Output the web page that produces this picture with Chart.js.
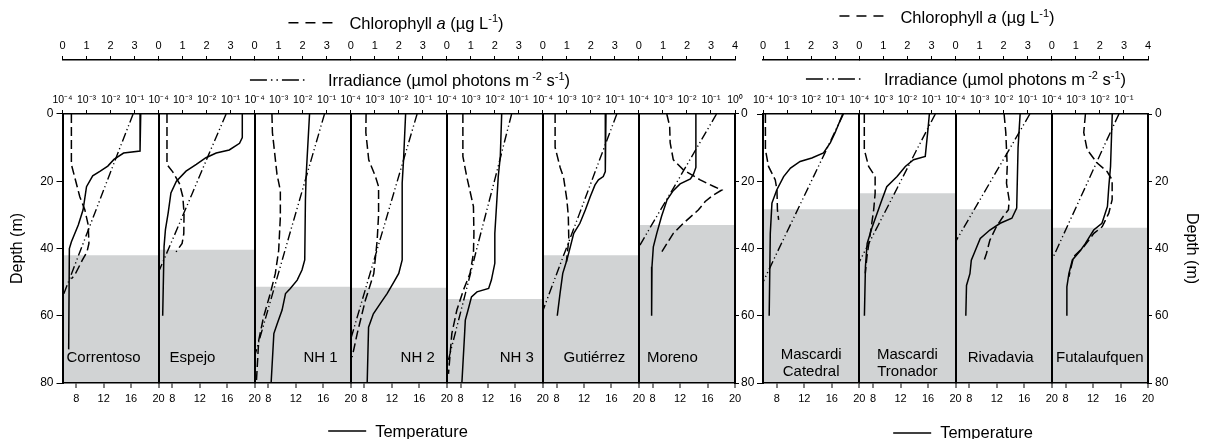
<!DOCTYPE html>
<html>
<head>
<meta charset="utf-8">
<title>Lake profiles</title>
<script src="https://cdn.jsdelivr.net/npm/chart.js@4.4.1/dist/chart.umd.min.js"></script>
<style>
  html, body { margin: 0; padding: 0; background: #fff; }
  #wrap { position: relative; width: 1207px; height: 439px; overflow: hidden; }
  #wrap canvas { position: absolute; top: 0; }
  #leftChart { left: 0; }
  #rightChart { left: 740px; }
</style>
</head>
<body>
<div id="wrap">
  <canvas id="leftChart" width="760" height="439"></canvas>
  <canvas id="rightChart" width="467" height="439"></canvas>
</div>
<script>
Chart.defaults.font.family = '"Liberation Sans", Arial, Helvetica, sans-serif';
Chart.defaults.color = '#000';

// lakes, the first 7 go in the left block
const lakes = ['Correntoso', 'Espejo', 'NH 1', 'NH 2', 'NH 3', 'Gutiérrez', 'Moreno',
  'Mascardi\nCatedral', 'Mascardi\nTronador', 'Rivadavia', 'Futalaufquen'];
const leftCount = 7;

// depth (m) where the grey band starts
const shadeDepth = [42, 40.4, 51.4, 51.7, 55, 42, 33, 28.3, 23.6, 28.3, 33.8];

const depthTicks = [0, 20, 40, 60, 80];
const tempTicks = [8, 12, 16, 20];
const chlTicks = [0, 1, 2, 3];
const chlTicksEnd = [0, 1, 2, 3, 4];
const irrTicks = [1e-4, 1e-3, 1e-2, 1e-1];
const irrTicksEnd = [1e-4, 1e-3, 1e-2, 1e-1, 1];
const irrTickLabels = ['10⁻⁴', '10⁻³', '10⁻²', '10⁻¹', '10⁰'];

// [depth m, °C]
const temperature = [
  [[0,17.4],[11,17.3],[11.6,14.9],[13.5,13.5],[15.5,12.6],[17,11.5],[18.4,10.4],[21.6,9.5],[28.5,9.0],[33,8.3],[38,7.3],[40,7.0],[70,6.9]],
  [[0,18.2],[7,18.2],[8.7,17.8],[10.7,16.3],[11.6,14.4],[13,12.9],[15,11.5],[17,10.0],[20,8.6],[23.5,7.8],[29.4,7.4],[34.4,7.0],[39.4,6.8],[60,6.6]],
  [[0,14.0],[18.6,13.5],[25.5,13.4],[43.4,13.3],[46.4,12.9],[49.4,12.2],[51.9,11.2],[53.4,10.5],[58.3,10.0],[62.3,9.3],[65.3,8.8],[80,8.4]],
  [[0,14.0],[13.6,13.7],[20.5,13.5],[43.4,13.5],[47.4,13.0],[49.9,12.3],[53.4,11.3],[56.4,10.3],[59.4,9.3],[63.4,8.6],[80,8.4]],
  [[0,14.0],[12.6,13.8],[18.6,13.5],[25.5,13.3],[35.5,13.0],[44.4,13.0],[49.4,12.5],[51.9,12.1],[52.9,10.4],[54.4,9.6],[58.3,9.1],[61.3,8.7],[65.3,8.6],[80,8.2]],
  [[0,15.2],[17.1,15.1],[18.6,14.8],[19.6,14.1],[21.1,13.6],[24.6,12.9],[28.5,12.2],[32.5,11.4],[35.5,10.5],[39.5,10.0],[43.4,9.5],[47.4,8.9],[53.4,8.5],[60,8.1]],
  [[0,14.3],[15.9,14.3],[17.9,13.95],[19.3,13.5],[20.8,12.0],[22.8,11.0],[25.5,10.1],[30.4,9.3],[35.5,8.6],[39.5,8.1],[45.4,7.9],[60,7.85]],
  [[0,17.6],[5.5,16.5],[8.5,15.8],[11.6,14.8],[13.1,13.1],[14.1,11.4],[16.1,10.0],[18.6,9.0],[22.6,8.0],[26.5,7.3],[35.5,7.06],[60,6.9]],
  [[0,16.2],[4.5,16.0],[12.6,15.6],[13.6,13.9],[15.6,12.7],[18.6,11.5],[21.6,10.0],[25.5,9.3],[29.5,8.6],[33.5,7.9],[38.5,7.15],[45.4,6.9],[60,6.75]],
  [[0,15.4],[10,15.1],[28,14.9],[31,14.2],[32.5,12.5],[34.5,11.0],[37,9.6],[40,9.0],[43.5,8.3],[47.5,8.1],[51,7.6],[60,7.5]],
  [[0,14.8],[15.6,14.55],[21.6,14.3],[27.5,14.1],[32.5,13.3],[34.5,12.1],[38.5,10.9],[40.5,10.2],[43.4,9.0],[47.4,8.5],[51.4,8.2],[60,8.2]]
];

// [depth m, chlorophyll a µg L-1]
const chlorophyll = [
  [[0,0.37],[15,0.37],[24.6,0.72],[28.5,0.93],[33,1.07],[38.5,1.1],[41,1.02],[43.4,0.83],[47.9,0.51],[49,0.37]],
  [[0,0.35],[15,0.35],[17.2,0.59],[20.7,0.87],[24.6,1.01],[29.6,1.06],[35.6,1.05],[38.5,0.98],[41,0.73]],
  [[0,0.72],[5.5,0.74],[17.9,0.93],[22.8,1.07],[30.7,1.07],[40.6,1.0],[47.5,0.86],[53.4,0.65],[60.4,0.37],[67.3,0.17],[80,0.07]],
  [[0,0.64],[5.5,0.63],[13.6,0.75],[18.6,1.03],[21.6,1.16],[30,1.16],[37.7,1.1],[47.5,0.96],[55.4,0.61],[65.3,0.27],[72.3,0.06]],
  [[0,0.67],[12.6,0.67],[18.6,0.83],[27.5,1.11],[35.5,1.13],[41.4,1.11],[47.4,0.97],[52.4,0.69],[58.3,0.42],[65.3,0.21],[77.3,0.07]],
  [[0,0.51],[9.9,0.51],[15.9,0.72],[18.8,0.86],[25.5,1.0],[30.4,1.06],[37.4,1.08],[44,0.98]],
  [[0,1.16],[3.6,1.28],[8.5,1.3],[13.6,1.43],[16.6,1.85],[19.6,2.55],[21.5,3.1],[22.6,3.45],[24.1,3.1],[26,2.76],[28.5,2.48],[32.5,1.85],[35.5,1.43],[41,0.95]],
  [[0,0.1],[10.6,0.1],[15.6,0.23],[19.6,0.51],[22.6,0.58],[28.5,0.6],[31.5,0.65]],
  [[0,0.21],[10.6,0.21],[15.6,0.39],[18.6,0.66],[23.6,0.66],[28.5,0.6],[35.5,0.46],[42.4,0.32],[47.4,0.25]],
  [[0,2.02],[5.5,2.09],[15.6,2.15],[20.6,2.12],[25.5,2.23],[28.5,2.2],[30.5,1.98],[33.5,1.7],[37.5,1.43],[41.4,1.29],[44.4,1.15]],
  [[0,1.40],[5.5,1.33],[10.6,1.47],[14.6,1.89],[17.1,2.3],[19.6,2.51],[25.5,2.51],[29.5,2.37],[33.5,2.1],[35.5,1.75],[39.5,1.33],[42.4,0.91],[48.4,0.71]]
];

// [depth m, irradiance µmol photons m-2 s-1]
const irradiance = [
  [[0,0.087],[13,0.017],[27,0.003],[40,0.0006],[54.5,0.0001]],
  [[0,0.065],[12,0.0123],[24,0.0024],[36,0.00046],[47,0.0001]],
  [[0,0.081],[18,0.015],[36,0.0028],[54,0.00053],[72,0.0001]],
  [[0,0.058],[17,0.0115],[34,0.0023],[50,0.0005],[67,0.0001]],
  [[0,0.05],[19,0.0104],[38,0.0021],[56,0.00048],[75,0.0001]],
  [[0,0.12],[15,0.0195],[30,0.0032],[45,0.00051],[58.5,0.0001]],
  [[0,0.17],[10,0.026],[20,0.004],[30,0.0006],[39.5,0.0001]],
  [[0,0.22],[12,0.035],[25,0.0047],[38,0.00063],[50,0.0001]],
  [[0,0.145],[11,0.023],[22,0.0038],[33,0.00062],[44,0.0001]],
  [[0,0.123],[10,0.019],[19,0.0035],[28,0.00065],[38,0.0001]],
  [[0,0.062],[11,0.012],[22,0.0024],[33,0.00047],[43.5,0.0001]]
];

// where each lake name sits in its panel
const nameAlign = ['left', 'left', 'right', 'right', 'right', 'center', 'left', 'center', 'center', 'center', 'center'];
const nameDx = [4, 11, 13, 12, 9, 3.5, 8, 0, 0, -3, 0];

const FONT = '"Liberation Sans", Arial, Helvetica, sans-serif';
const chlDash = [9, 4];
const irrDash = [9, 3, 1.2, 3, 1.2, 3];

const legendRuns = {
  chl: [{t: 'Chlorophyll '}, {t: 'a', it: true}, {t: ' (µg L'}, {t: '-1', sup: true}, {t: ')'}],
  irr: [{t: 'Irradiance (µmol photons m'}, {t: ' -2', sup: true}, {t: ' s'}, {t: '-1', sup: true}, {t: ')'}],
  tmp: [{t: 'Temperature'}]
};

const groups = [
  {canvas: 'leftChart', offset: 0, first: 0, count: leftCount, leftWidth: 62.5, rightWidth: 25,
   leftLabels: true, leftTitle: true, rightTitle: false, rightPad: 2, irrEnd: true,
   legend: {chl: {cx: 396, ly: 22.7, base: 28.6}, irr: {cx: 410, ly: 80, base: 86}, tmp: {cx: 398, ly: 431, base: 436.5}}},
  {canvas: 'rightChart', offset: 740, first: leftCount, count: lakes.length - leftCount, leftWidth: 23, rightWidth: 59,
   leftLabels: false, leftTitle: false, rightTitle: true, rightPad: 3, irrEnd: false,
   legend: {chl: {cx: 947, ly: 16, base: 23.3}, irr: {cx: 966, ly: 79, base: 85}, tmp: {cx: 963, ly: 433, base: 438}}}
];

function runFont(r) {
  return (r.it ? 'italic ' : '') + (r.sup ? '11px ' : '16.5px ') + FONT;
}

function drawLegendItem(ctx, item, runs, dash, sample, gap, offset) {
  let textW = 0;
  runs.forEach(r => { ctx.font = runFont(r); textW += ctx.measureText(r.t).width; });
  let x = item.cx - offset - (sample + gap + textW) / 2;
  ctx.strokeStyle = '#000';
  ctx.lineWidth = 1.4;
  ctx.setLineDash(dash);
  ctx.beginPath();
  ctx.moveTo(x, item.ly);
  ctx.lineTo(x + sample, item.ly);
  ctx.stroke();
  ctx.setLineDash([]);
  x += sample + gap;
  runs.forEach(r => {
    ctx.font = runFont(r);
    ctx.fillText(r.t, x, item.base + (r.sup ? -6.5 : 0));
    x += ctx.measureText(r.t).width;
  });
}

function overlay(g) {
  return {
    id: 'overlay',
    afterDatasetsDraw(chart) {
      const ctx = chart.ctx;
      ctx.save();
      ctx.fillStyle = '#000';
      ctx.font = '15px ' + FONT;
      ctx.textBaseline = 'alphabetic';
      for (let k = 0; k < g.count; k++) {
        const i = g.first + k;
        const s = chart.scales['tmp' + k];
        const lines = lakes[i].split('\n');
        const a = nameAlign[i];
        const x = a === 'left' ? s.left + nameDx[i] : a === 'right' ? s.right - nameDx[i] : (s.left + s.right) / 2 + nameDx[i];
        ctx.textAlign = a;
        const y0 = lines.length > 1 ? 359 : 362;
        lines.forEach((t, j) => ctx.fillText(t, x, y0 + j * 17));
      }
      ctx.restore();
    },
    afterDraw(chart) {
      const ctx = chart.ctx;
      ctx.save();
      ctx.fillStyle = '#000';
      ctx.textAlign = 'left';
      ctx.textBaseline = 'alphabetic';
      drawLegendItem(ctx, g.legend.chl, legendRuns.chl, [10, 7], 44, 17, g.offset);
      drawLegendItem(ctx, g.legend.irr, legendRuns.irr, [17, 4, 1.5, 4, 1.5, 4], 58, 20, g.offset);
      drawLegendItem(ctx, g.legend.tmp, legendRuns.tmp, [], 38, 9, g.offset);
      ctx.restore();
    }
  };
}

function buildGroup(g) {
  const scales = {};
  const datasets = [];
  const pts = arr => arr.map(([d, v]) => ({x: v, y: d}));

  for (let k = 0; k < g.count; k++) {
    const i = g.first + k;
    const last = k === g.count - 1;
    const chlT = last ? chlTicksEnd : chlTicks;
    const irrT = last && g.irrEnd ? irrTicksEnd : irrTicks;

    scales['tmp' + k] = {
      axis: 'x', type: 'linear', position: 'bottom', stack: 'tmp', stackWeight: 1, weight: k,
      min: 6, max: 20,
      afterBuildTicks: s => { s.ticks = tempTicks.map(v => ({value: v})); },
      afterFit: s => { s.height = 56; },
      ticks: {autoSkip: false, maxRotation: 0, minRotation: 0, padding: 4, font: {size: 11}},
      grid: {z: 1, drawOnChartArea: true, lineWidth: 2, tickWidth: 1, tickLength: 5, tickColor: '#000',
             color: c => (c.tick && c.tick.value === 20) ? '#000' : 'rgba(0,0,0,0)'},
      border: {z: 1, color: '#000', width: 1.5}
    };
    scales['chl' + k] = {
      axis: 'x', type: 'linear', position: 'top', stack: 'chl', stackWeight: 1, weight: 100 - k,
      min: 0, max: 4,
      afterBuildTicks: s => { s.ticks = chlT.map(v => ({value: v})); },
      afterFit: s => { s.height = 60; },
      ticks: {autoSkip: false, maxRotation: 0, minRotation: 0, padding: 3, font: {size: 11}},
      grid: {drawOnChartArea: false, tickLength: 4, tickWidth: 1, tickColor: '#000'},
      border: {color: '#000', width: 1.5}
    };
    scales['irr' + k] = {
      axis: 'x', type: 'logarithmic', position: 'top', stack: 'irr', stackWeight: 1, weight: 50 - k,
      min: 1e-4, max: 1,
      afterBuildTicks: s => { s.ticks = irrT.map(v => ({value: v})); },
      afterFit: s => { s.height = 54; },
      ticks: {autoSkip: false, maxRotation: 0, minRotation: 0, padding: 4, font: {size: 10.5},
              callback: v => irrTickLabels[Math.round(Math.log10(v)) + 4]},
      grid: {drawOnChartArea: false, tickLength: 4, tickWidth: 1, tickColor: '#000'},
      border: {z: 1, color: '#000', width: 1.5}
    };

    datasets.push({
      label: lakes[i] + ' temperature', data: pts(temperature[i]),
      xAxisID: 'tmp' + k, yAxisID: 'yL', showLine: true, pointRadius: 0,
      borderColor: '#000', borderWidth: 1.5, order: 1
    });
    datasets.push({
      label: lakes[i] + ' chlorophyll', data: pts(chlorophyll[i]),
      xAxisID: 'chl' + k, yAxisID: 'yL', showLine: true, pointRadius: 0,
      borderColor: '#000', borderWidth: 1.5, borderDash: chlDash, order: 1
    });
    datasets.push({
      label: lakes[i] + ' irradiance', data: pts(irradiance[i]),
      xAxisID: 'irr' + k, yAxisID: 'yL', showLine: true, pointRadius: 0,
      borderColor: '#000', borderWidth: 1.4, borderDash: irrDash, order: 1
    });
    datasets.push({
      label: lakes[i] + ' band', data: [{x: 0, y: shadeDepth[i]}, {x: 4, y: shadeDepth[i]}],
      xAxisID: 'chl' + k, yAxisID: 'yL', showLine: true, pointRadius: 0,
      borderWidth: 0, borderColor: 'rgba(0,0,0,0)', backgroundColor: '#d1d3d4',
      fill: {value: 80}, order: 5
    });
  }

  scales.yL = {
    axis: 'y', type: 'linear', position: 'left', reverse: true, min: 0, max: 80, weight: 0,
    afterBuildTicks: s => { s.ticks = depthTicks.map(v => ({value: v})); },
    afterFit: s => { s.width = g.leftWidth; },
    ticks: {font: {size: 12}, padding: 3, callback: v => g.leftLabels ? String(v) : ''},
    grid: {drawOnChartArea: false, tickLength: 6, tickWidth: 1, tickColor: '#000'},
    border: {z: 1, color: '#000', width: 2},
    title: {display: g.leftTitle, text: 'Depth (m)', font: {size: 16}, padding: {top: 8, bottom: 0}}
  };
  scales.yR = {
    axis: 'y', type: 'linear', position: 'right', reverse: true, min: 0, max: 80, weight: 0,
    afterBuildTicks: s => { s.ticks = depthTicks.map(v => ({value: v})); },
    afterFit: s => { s.width = g.rightWidth; },
    ticks: {font: {size: 12}, padding: g.rightPad},
    grid: {drawOnChartArea: false, tickLength: 4, tickWidth: 1, tickColor: '#000'},
    border: {z: 1, color: '#000', width: 2},
    title: {display: g.rightTitle, text: 'Depth (m)', font: {size: 16}, padding: {top: 6, bottom: 0}}
  };

  return new Chart(document.getElementById(g.canvas), {
    type: 'scatter',
    data: {datasets: datasets},
    options: {
      responsive: false,
      animation: false,
      events: [],
      layout: {padding: 0},
      elements: {point: {radius: 0}, line: {tension: 0}},
      plugins: {legend: {display: false}, tooltip: {enabled: false}},
      scales: scales
    },
    plugins: [overlay(g)]
  });
}

groups.forEach(buildGroup);
</script>
</body>
</html>
